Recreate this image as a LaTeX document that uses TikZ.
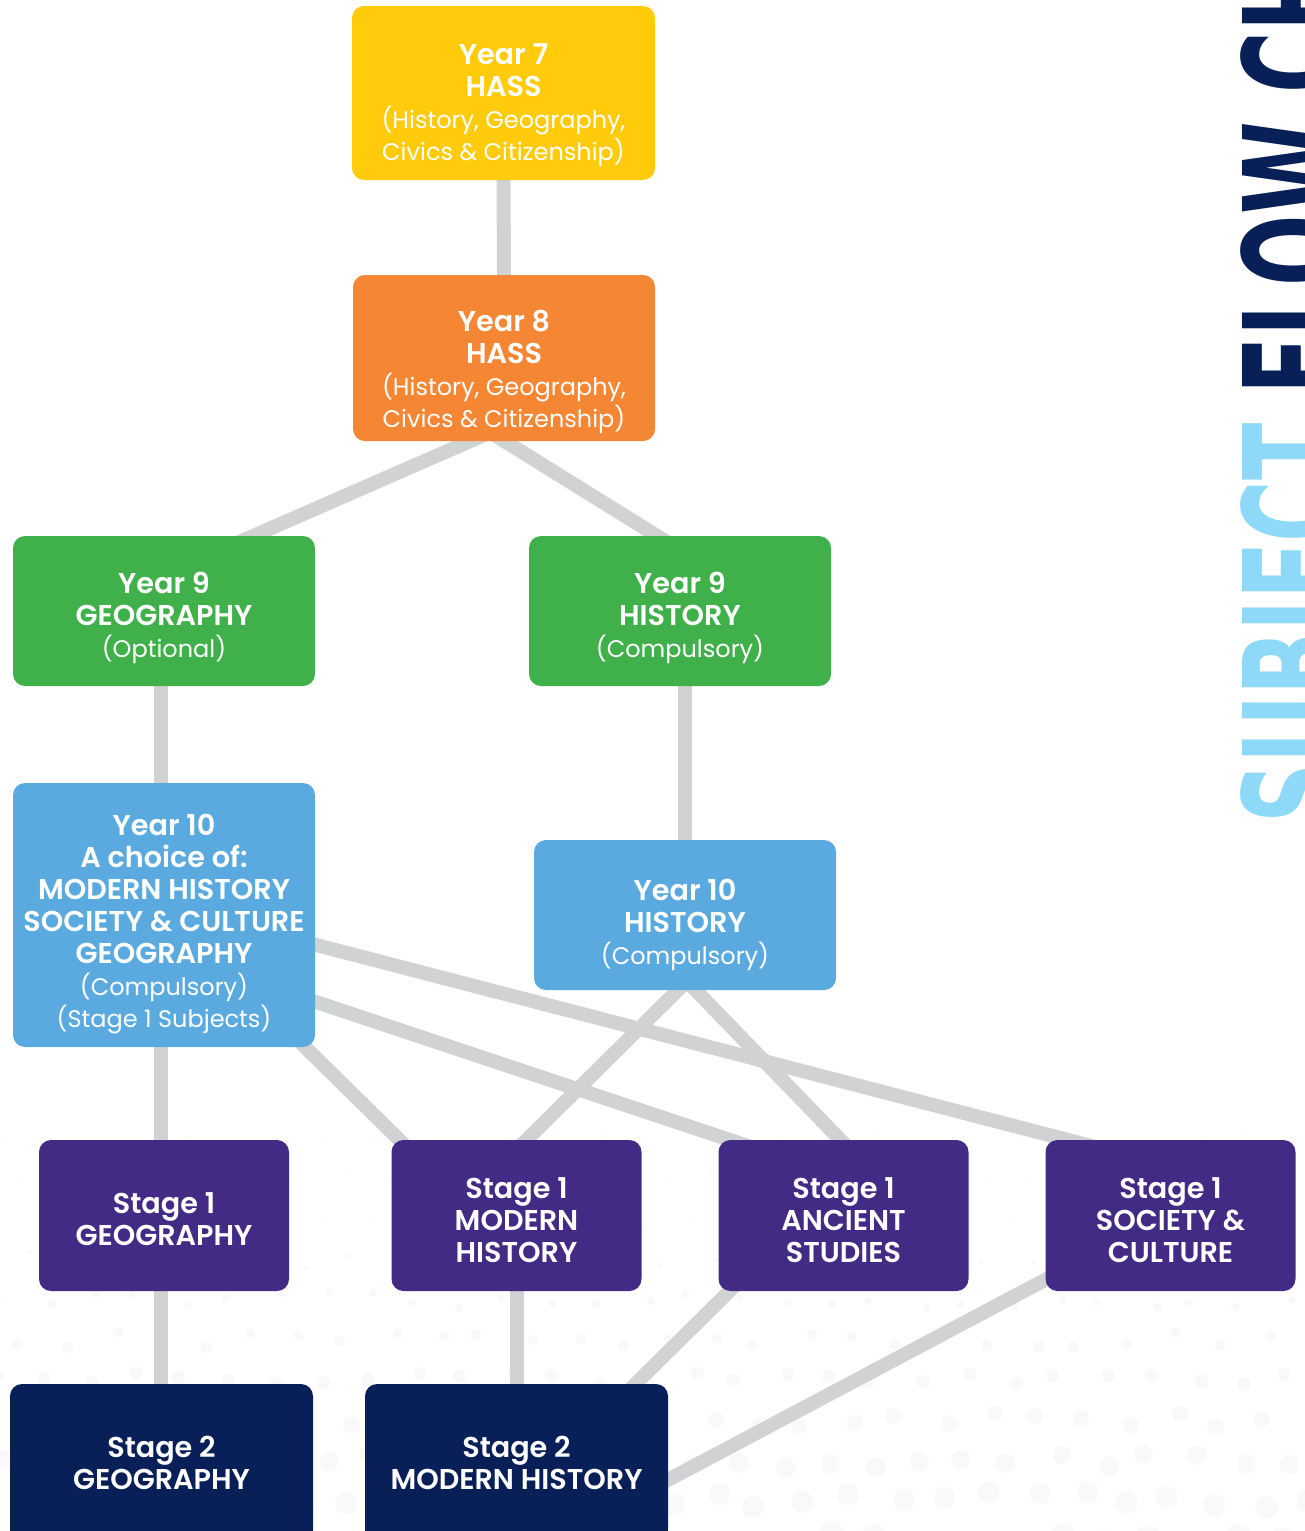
\documentclass[tikz,border=0pt]{standalone}
\usepackage{fontspec}
\usepackage{graphicx}
\setmainfont{Poppins}[BoldFont={Poppins SemiBold}]
\newfontfamily\titlefont{DejaVu Sans}
\usetikzlibrary{calc,backgrounds}
\definecolor{cyel}{HTML}{FFCB0B}
\definecolor{cora}{HTML}{F58634}
\definecolor{cgrn}{HTML}{40B04A}
\definecolor{cblu}{HTML}{5BAADF}
\definecolor{cpur}{HTML}{432A85}
\definecolor{cnav}{HTML}{082057}
\definecolor{clin}{HTML}{D1D2D4}
\definecolor{cttl}{HTML}{8ED8F8}
\definecolor{cdot}{HTML}{F9F9FA}
\newcommand{\dn}[1]{\rule{0pt}{\dimexpr 15pt+#1pt\relax}}
\newcommand{\rg}[1]{{\fontsize{18}{24}\selectfont #1}}
\tikzset{
  bx/.style 2 args={rectangle, rounded corners=9pt, minimum width={#1*0.75pt},
    minimum height={#2*0.75pt}, inner sep=0pt, align=center, text=white,
    font=\fontsize{21.5}{24}\selectfont},
  conn/.style={draw=clin, line width=10.5pt, shorten <=-20pt, shorten >=-20pt}
}
\begin{document}
\begin{tikzpicture}[x=0.75pt,y=-0.75pt]
\useasboundingbox (0,0) rectangle (1305,1531);
\clip (0,0) rectangle (1305,1531);

% boxes
\node[bx={303}{174}, fill=cyel] (y7) at (503.5,93)
  {\dn{19.5}\textbf{Year 7}\\\textbf{HASS}\\\rg{(History, Geography,}\\\rg{Civics \& Citizenship)}};
\node[bx={302}{166}, fill=cora] (y8) at (504,358)
  {\dn{22.5}\textbf{Year 8}\\\textbf{HASS}\\\rg{(History, Geography,}\\\rg{Civics \& Citizenship)}};
\node[bx={302}{150}, fill=cgrn] (y9g) at (164,611)
  {\dn{12}\textbf{Year 9}\\\textbf{GEOGRAPHY}\\\rg{(Optional)}};
\node[bx={302}{150}, fill=cgrn] (y9h) at (680,611)
  {\dn{12}\textbf{Year 9}\\\textbf{HISTORY}\\\rg{(Compulsory)}};
\node[bx={302}{264}, fill=cblu] (y10l) at (164,915)
  {\dn{15}\textbf{Year 10}\\\textbf{A choice of:}\\\textbf{MODERN HISTORY}\\\textbf{SOCIETY \& CULTURE}\\\textbf{GEOGRAPHY}\\\rg{(Compulsory)}\\\rg{(Stage 1 Subjects)}};
\node[bx={302}{150}, fill=cblu] (y10r) at (685,915)
  {\dn{16.5}\textbf{Year 10}\\\textbf{HISTORY}\\\rg{(Compulsory)}};
\node[bx={250}{151}, fill=cpur] (s1g) at (164,1215.5)
  {\dn{6}\textbf{Stage 1}\\\textbf{GEOGRAPHY}};
\node[bx={250}{151}, fill=cpur] (s1m) at (516.5,1215.5)
  {\dn{7.5}\textbf{Stage 1}\\\textbf{MODERN}\\\textbf{HISTORY}};
\node[bx={250}{151}, fill=cpur] (s1a) at (843.5,1215.5)
  {\dn{7.5}\textbf{Stage 1}\\\textbf{ANCIENT}\\\textbf{STUDIES}};
\node[bx={250}{151}, fill=cpur] (s1s) at (1170.5,1215.5)
  {\dn{7.5}\textbf{Stage 1}\\\textbf{SOCIETY \&}\\\textbf{CULTURE}};
\node[bx={303}{158}, fill=cnav] (s2g) at (161.5,1463)
  {\textbf{Stage 2}\\\textbf{GEOGRAPHY}};
\node[bx={303}{158}, fill=cnav] (s2m) at (516.5,1463)
  {\textbf{Stage 2}\\\textbf{MODERN HISTORY}};

% vertical title
\node[rotate=90, anchor=north west, inner sep=0pt,
  font=\titlefont\bfseries\fontsize{105}{105}\selectfont] (ttl) at (1240,824)
  {\scalebox{0.6}[1]{\color{cttl}SUBJECT \color{cnav}FLOW CHART}};

\begin{pgfonlayer}{background}
  % faint dots
  \pgfmathsetseed{7}
  \foreach \r in {0,...,10}{
    \foreach \c in {0,...,29}{
      \pgfmathsetmacro{\yy}{1140+\r*40+rand*8}
      \pgfmathsetmacro{\xx}{\c*46+mod(\r,2)*23+rand*8}
      \pgfmathsetmacro{\rr}{max(1.5,2+(\yy-1240)*0.035)}
      \fill[cdot] (\xx,\yy) circle[radius=\rr];
    }
  }
  % connectors
  \draw[conn] (y7.south) -- (y8.north);
  \draw[conn] ($(y8.south west)+(117,0)$) -- ($(y9g.north west)+(241,0)$);
  \draw[conn] ($(y8.south west)+(152,0)$) -- ($(y9h.north west)+(128,0)$);
  \draw[conn] ($(y9g.south west)+(148,0)$) -- ($(y10l.north west)+(148,0)$);
  \draw[conn] ($(y9h.south west)+(156,0)$) -- ($(y10r.north west)+(151,0)$);
  \draw[conn] ($(y10l.south west)+(148,0)$) -- ($(s1g.north west)+(122,0)$);
  \draw[conn] ($(y10l.south east)+(-12,-2)$) -- ($(s1m.north west)+(8,0)$);
  \draw[conn] ($(y10l.north east)+(0,219)$) -- ($(s1a.north west)+(11,0)$);
  \draw[conn] ($(y10l.north east)+(0,162)$) -- ($(s1s.north west)+(22,0)$);
  \draw[conn] ($(y10r.south west)+(144,0)$) -- ($(s1m.north west)+(135.5,0)$);
  \draw[conn] ($(y10r.south west)+(162,0)$) -- ($(s1a.north west)+(122,0)$);
  \draw[conn] ($(s1g.south west)+(122,0)$) -- ($(s2g.north west)+(151,0)$);
  \draw[conn] (s1m.south) -- (s2m.north);
  \draw[conn] ($(s1a.south west)+(11,0)$) -- ($(s2m.north west)+(271,0)$);
  \draw[conn] ($(s1s.north west)+(0,140)$) -- ($(s2m.north east)+(0,96)$);
\end{pgfonlayer}
\end{tikzpicture}
\end{document}
